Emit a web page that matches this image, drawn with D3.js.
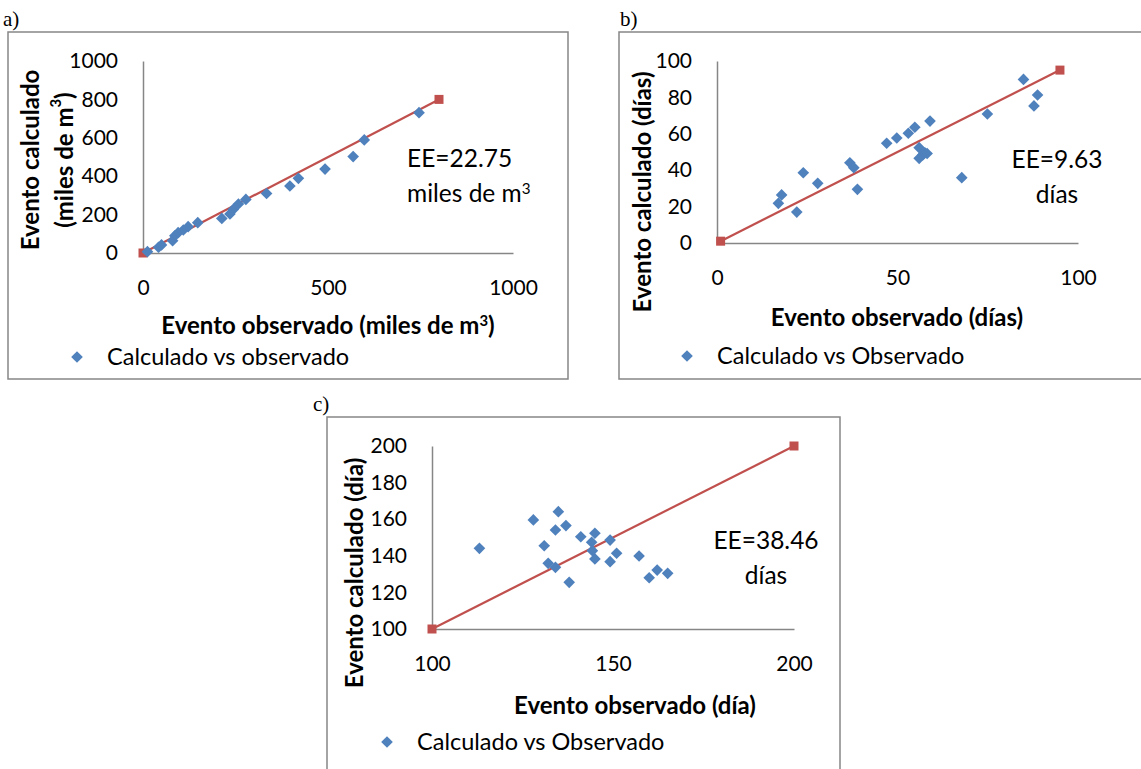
<!DOCTYPE html>
<html><head><meta charset="utf-8">
<script src="https://cdn.jsdelivr.net/npm/d3@7"></script>
<style>
body{margin:0;background:#fff;}
svg{display:block;font-family:Lato,'Open Sans',sans-serif;}
</style>
</head><body>
<svg id="chart" width="1141" height="769"></svg>
<script>
// ---------- data ----------
const aObserved   = [12, 42, 50, 80, 86, 95, 109, 122, 148, 213, 235, 244, 258, 278, 334, 397, 420, 492, 568, 598, 746];
const aCalculated = [7, 30, 42, 64, 90, 106, 120, 137, 158, 180, 203, 227, 255, 279, 310, 349, 389, 437, 502, 589, 731];
const aRefLine = [0, 800];
const aTicksX = [0, 500, 1000];
const aTicksY = [0, 200, 400, 600, 800, 1000];

const bObserved   = [84.9, 88.8, 87.8, 74.9, 59.0, 54.8, 53.0, 49.8, 47.0, 56.0, 57.6, 57.0, 56.0, 58.2, 67.8, 36.8, 37.9, 38.9, 27.9, 23.9, 17.9, 17.0, 22.1];
const bCalculated = [89.9, 81.3, 75.3, 70.9, 67.0, 63.6, 60.3, 57.7, 54.8, 52.4, 49.6, 48.4, 46.5, 49.2, 35.9, 44.1, 41.4, 29.5, 32.8, 38.6, 26.4, 21.8, 17.0];
const bRefLine = [1, 95];
const bTicksX = [0, 50, 100];
const bTicksY = [0, 20, 40, 60, 80, 100];

const cObserved   = [113.1, 128.0, 134.9, 134.1, 137.0, 131.0, 141.1, 145.0, 144.1, 144.3, 145.0, 149.2, 151.0, 149.2, 132.1, 134.1, 137.9, 157.2, 162.2, 160.0, 165.1];
const cCalculated = [144.1, 159.6, 164.1, 154.1, 156.5, 145.5, 150.4, 152.3, 147.4, 142.8, 138.3, 148.6, 141.4, 136.8, 135.9, 133.7, 125.5, 139.9, 132.2, 128.0, 130.4];
const cRefLine = [100, 200];
const cTicksX = [100, 150, 200];
const cTicksY = [100, 120, 140, 160, 180, 200];

const legendLabels = ["Calculado vs observado", "Calculado vs Observado", "Calculado vs Observado"];
const eeLabels = ["EE=22.75", "EE=9.63", "EE=38.46"];
// ---------------------------

const svg = d3.select("#chart");
const AXIS = "#868686", BLUE = "#4F81BD", RED = "#C0504D";
const FS_TICK = 21, FS_TITLE = 24, FS_LEG = 23.5, FS_EE = 24.5;

function sup(sel, base, supTxt, after) {
  sel.append("tspan").text(base);
  sel.append("tspan").attr("dy", -8).attr("font-size", "0.62em").text(supTxt);
  if (after) sel.append("tspan").attr("dy", 8).text(after);
}

function panel(o) {
  const g = svg.append("g");
  g.append("rect").attr("x", o.frame[0]).attr("y", o.frame[1])
    .attr("width", o.frame[2]).attr("height", o.frame[3])
    .attr("fill", "none").attr("stroke", AXIS).attr("stroke-width", 1.5);
  g.append("text").attr("x", o.letterPos[0]).attr("y", o.letterPos[1])
    .attr("font-family", "'Liberation Serif', serif").attr("font-size", 21).text(o.letter);

  const x = d3.scaleLinear().domain([o.xTicks[0], o.xTicks[o.xTicks.length-1]]).range(o.xRange);
  const y = d3.scaleLinear().domain([o.yTicks[0], o.yTicks[o.yTicks.length-1]]).range(o.yRange);

  const ax = g.append("g").attr("transform", `translate(0,${o.yRange[0]})`)
    .call(d3.axisBottom(x).tickValues(o.xTicks).tickSize(0).tickSizeOuter(0).tickPadding(27).tickFormat(d3.format("d")));
  const ay = g.append("g").attr("transform", `translate(${o.xRange[0]},0)`)
    .call(d3.axisLeft(y).tickValues(o.yTicks).tickSize(0).tickSizeOuter(0).tickPadding(25).tickFormat(d3.format("d")));
  [ax, ay].forEach(a => {
    a.attr("font-family", null).attr("font-size", null);
    a.select(".domain").attr("stroke", AXIS).attr("stroke-width", 1.5);
    a.selectAll("text").attr("font-size", FS_TICK).attr("fill", "#000");
  });

  const ref = o.ref.map(v => [x(v), y(v)]);
  g.append("path").attr("d", d3.line()(ref)).attr("stroke", RED).attr("stroke-width", 2.2).attr("fill", "none");
  g.selectAll(".sq").data(ref).join("rect").attr("class", "sq")
    .attr("x", d => d[0]-4.5).attr("y", d => d[1]-4.5).attr("width", 9).attr("height", 9).attr("fill", RED);

  const diamond = d3.symbol().type(d3.symbolSquare).size(68);
  g.selectAll(".pt").data(o.obs.map((v, i) => [v, o.calc[i]])).join("path").attr("class", "pt")
    .attr("d", diamond)
    .attr("transform", d => `translate(${x(d[0])},${y(d[1])}) rotate(45)`)
    .attr("fill", BLUE);

  const xt = g.append("text").attr("x", o.xTitle[0]).attr("y", o.xTitle[1])
    .attr("text-anchor", "middle").attr("font-weight", "bold").attr("font-size", FS_TITLE);
  o.xTitleFn(xt);
  o.yTitles.forEach(t => {
    const yt = g.append("text").attr("transform", `translate(${t.x},${t.y}) rotate(-90)`)
      .attr("text-anchor", "middle").attr("dominant-baseline", "central")
      .attr("font-weight", "bold").attr("font-size", FS_TITLE);
    t.fn(yt);
  });

  g.append("text").attr("x", o.ee[0]).attr("y", o.ee[1]).attr("text-anchor", o.eeAnchor)
    .attr("font-size", FS_EE).text(o.eeText);
  const e2 = g.append("text").attr("x", o.ee[0]).attr("y", o.ee[1] + 35).attr("text-anchor", o.eeAnchor)
    .attr("font-size", FS_EE);
  o.ee2Fn(e2);

  g.append("path").attr("d", d3.symbol().type(d3.symbolSquare).size(68))
    .attr("transform", `translate(${o.legend[0]},${o.legend[1]}) rotate(45)`).attr("fill", BLUE);
  g.append("text").attr("x", o.legend[0] + 30).attr("y", o.legend[1] + 8)
    .attr("font-size", FS_LEG).text(o.legendText);
}

panel({
  frame: [8, 32, 560, 347], letter: "a)", letterPos: [3, 26],
  xTicks: aTicksX, yTicks: aTicksY, xRange: [143, 513], yRange: [253, 61],
  obs: aObserved, calc: aCalculated, ref: aRefLine,
  xTitle: [328, 334], xTitleFn: s => sup(s, "Evento observado (miles de m", "3", ")"),
  yTitles: [
    {x: 29, y: 160, fn: s => s.text("Evento calculado")},
    {x: 63, y: 160, fn: s => sup(s, "(miles de m", "3", ")")}
  ],
  ee: [407, 167], eeAnchor: "start", eeText: eeLabels[0], ee2Fn: s => sup(s, "miles de m", "3"),
  legend: [77, 357], legendText: legendLabels[0]
});

panel({
  frame: [619, 32, 540, 347], letter: "b)", letterPos: [620, 26],
  xTicks: bTicksX, yTicks: bTicksY, xRange: [717, 1078], yRange: [243, 61],
  obs: bObserved, calc: bCalculated, ref: bRefLine,
  xTitle: [897, 326], xTitleFn: s => s.text("Evento observado (días)"),
  yTitles: [{x: 641, y: 192, fn: s => s.text("Evento calculado (días)")}],
  ee: [1057, 168], eeAnchor: "middle", eeText: eeLabels[1], ee2Fn: s => s.text("días"),
  legend: [687, 356], legendText: legendLabels[1]
});

panel({
  frame: [327, 417, 513, 380], letter: "c)", letterPos: [313, 411],
  xTicks: cTicksX, yTicks: cTicksY, xRange: [432, 794], yRange: [629, 446],
  obs: cObserved, calc: cCalculated, ref: cRefLine,
  xTitle: [635, 714], xTitleFn: s => s.text("Evento observado (día)"),
  yTitles: [{x: 353, y: 573, fn: s => s.text("Evento calculado (día)")}],
  ee: [766, 549], eeAnchor: "middle", eeText: eeLabels[2], ee2Fn: s => s.text("días"),
  legend: [387, 742], legendText: legendLabels[2]
});
</script>
</body></html>
